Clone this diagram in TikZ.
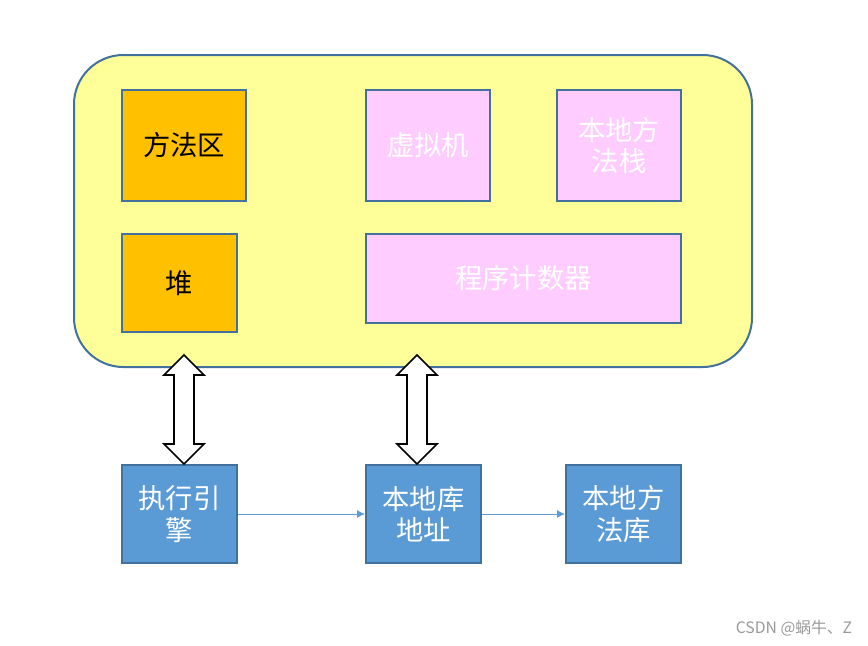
\documentclass[tikz,border=0pt]{standalone}
\usepackage{fontspec}
\newfontfamily\cjk{Noto Sans CJK SC}
\usetikzlibrary{positioning,calc,arrows.meta}

\definecolor{membg}{HTML}{FFFF99}
\definecolor{memline}{HTML}{41719C}
\definecolor{areafill}{HTML}{FFC000}
\definecolor{stackfill}{HTML}{FFCCFF}
\definecolor{libfill}{HTML}{5B9BD5}

\tikzset{
  box/.style={draw=memline, line width=1.5pt, inner sep=0pt, align=center,
    font=\cjk\fontsize{20.5}{23.5}\selectfont},
  areabox/.style={box, fill=areafill, text=black},
  stackbox/.style={box, fill=stackfill, text=white},
  libbox/.style={box, fill=libfill, text=white, minimum width=86.25pt, minimum height=73.5pt},
  dblarrow/.style={draw=black, fill=white, line width=1.2pt, line join=miter},
  thinarrow/.style={draw=libfill, line width=0.75pt, -{Latex[length=6pt,width=6pt]}}
}

\begin{document}
\begin{tikzpicture}[x=0.75pt,y=-0.75pt]
\useasboundingbox (0,0) rectangle (868,646);

% runtime data area
\node[draw=memline, line width=1.5pt, fill=membg, rounded corners=37pt,
  minimum width=508.5pt, minimum height=234pt] (mem) at (413,211) {};

\node[areabox, minimum width=93pt, minimum height=83.25pt] (method) at (184,145.5) {方法区};
\node[areabox, minimum width=86.25pt, minimum height=73.5pt] (heap) at (179.5,283) {堆};
\node[stackbox, minimum width=93pt, minimum height=83.25pt] (vmstack) at (428,145.5) {虚拟机};
\node[stackbox, minimum width=93pt, minimum height=83.25pt] (nstack) at (619,145.5) {本地方\\法栈};
\node[stackbox, minimum width=236.25pt, minimum height=66.75pt] (pc) at (523.5,278.5) {程序计数器};

% bottom row
\node[libbox] (engine) at (179.5,514) {执行引\\擎};
\node[libbox] (libaddr) at (423.5,514) {本地库\\地址};
\node[libbox] (nlib) at (623.5,514) {本地方\\法库};

% double arrows
\draw[dblarrow, shift={($(engine.north)+(4.5,0)$)}]
  (0,0) -- (20,-20) -- (10,-20) -- (10,-89) -- (20,-89) -- (0,-109)
  -- (-20,-89) -- (-10,-89) -- (-10,-20) -- (-20,-20) -- cycle;
\draw[dblarrow, shift={($(libaddr.north)+(-6.5,0)$)}]
  (0,0) -- (20,-20) -- (10,-20) -- (10,-89) -- (20,-89) -- (0,-109)
  -- (-20,-89) -- (-10,-89) -- (-10,-20) -- (-20,-20) -- cycle;

\draw[thinarrow] (engine) -- (libaddr);
\draw[thinarrow] (libaddr) -- (nlib);

\node[text=black!40, font=\cjk\fontsize{11.8}{13}\selectfont] (mark) at (794,628) {CSDN @蜗牛、Z};
\end{tikzpicture}
\end{document}
